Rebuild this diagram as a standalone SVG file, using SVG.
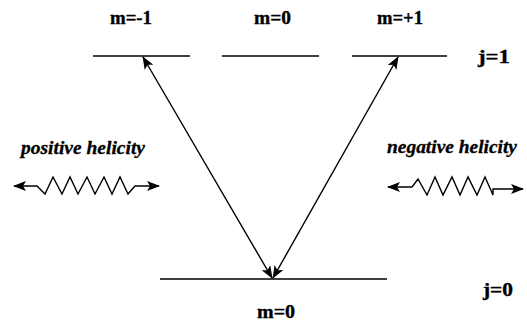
<svg xmlns="http://www.w3.org/2000/svg" width="527" height="322" viewBox="0 0 527 322">
<style>
.t{font-family:"Liberation Serif","Times New Roman",serif;font-weight:bold;font-size:18px;fill:#000;stroke:#000;stroke-width:0.35}
.i{font-family:"Liberation Serif","Times New Roman",serif;font-weight:bold;font-style:italic;font-size:18px;fill:#000;stroke:#000;stroke-width:0.3}
.lv{stroke:#000;stroke-width:1.6;fill:none}
.ln{stroke:#000;stroke-width:1.4;fill:none;stroke-linejoin:miter}
</style>
<defs>
<marker id="ah" viewBox="0 0 13 10" refX="12" refY="5" markerWidth="13" markerHeight="10" markerUnits="userSpaceOnUse" orient="auto-start-reverse">
<path d="M0,0 L13,5 L0,10 L3,5 Z" fill="#000"/>
</marker>
</defs>
<rect width="527" height="322" fill="#fff"/>
<g id="level-j1-m-1"><line class="lv" x1="93" y1="56" x2="190" y2="56"/><text class="t" x="110" y="24" textLength="42" lengthAdjust="spacingAndGlyphs">m=-1</text></g>
<g id="level-j1-m0"><line class="lv" x1="222" y1="56" x2="319" y2="56"/><text class="t" x="254" y="24" textLength="37" lengthAdjust="spacingAndGlyphs">m=0</text></g>
<g id="level-j1-m+1"><line class="lv" x1="352" y1="56" x2="447" y2="56"/><text class="t" x="377" y="24" textLength="46" lengthAdjust="spacingAndGlyphs">m=+1</text></g>
<g id="label-j1"><text class="t" x="478" y="63" textLength="32" lengthAdjust="spacingAndGlyphs">j=1</text></g>
<g id="level-j0-m0"><line class="lv" x1="160" y1="279" x2="387" y2="279"/><text class="t" x="257" y="318" textLength="38" lengthAdjust="spacingAndGlyphs">m=0</text></g>
<g id="label-j0"><text class="t" x="483" y="296" textLength="30" lengthAdjust="spacingAndGlyphs">j=0</text></g>
<g id="positive-helicity"><text class="i" x="21" y="154" textLength="124" lengthAdjust="spacingAndGlyphs">positive helicity</text>
<path class="ln" d="M14,186 L37,186 L45,194 L53,177 L62,194 L70,177 L78,194 L87,177 L95,194 L104,177 L112,194 L120,177 L128,194 L135,186 L159,186" marker-start="url(#ah)" marker-end="url(#ah)"/></g>
<g id="negative-helicity"><text class="i" x="387" y="153" textLength="130" lengthAdjust="spacingAndGlyphs">negative helicity</text>
<path class="ln" d="M388,187 L412,187 L418,179 L427,195 L435,177 L443,195 L452,177 L460,195 L468,177 L477,195 L485,177 L493,195 L493,189 L523,189" marker-start="url(#ah)" marker-end="url(#ah)"/></g>
<g id="connectors">
<line class="ln" x1="143" y1="57" x2="272" y2="278" marker-start="url(#ah)" marker-end="url(#ah)"/>
<line class="ln" x1="398" y1="57" x2="273" y2="278" marker-start="url(#ah)" marker-end="url(#ah)"/>
</g>
</svg>
